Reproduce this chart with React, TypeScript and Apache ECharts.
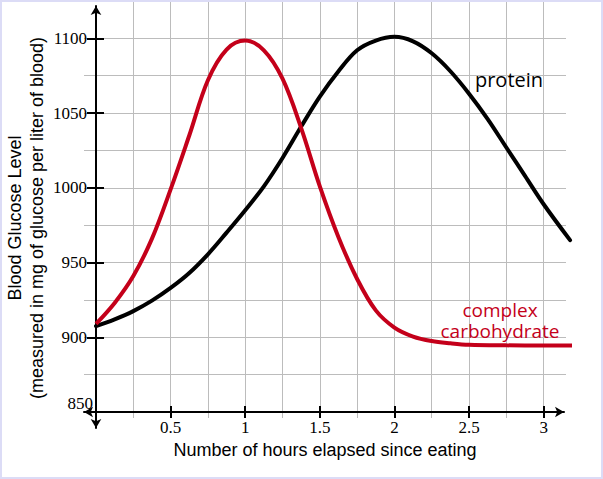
import React, { useEffect, useRef } from "react";
import * as echarts from "echarts";

// ---- data ----
const carbHours = [0, 0.125, 0.25, 0.375, 0.5, 0.625, 0.75, 0.875, 1, 1.125, 1.25, 1.375, 1.5, 1.625, 1.75, 1.875, 2, 2.125, 2.25, 2.375, 2.5, 2.75, 3, 3.19];
const carbohydrate = [909, 923, 941, 966, 999, 1035, 1072, 1092.5, 1098.5, 1092, 1073, 1040, 1001, 967, 939, 918, 906.5, 900.5, 897.5, 896, 895, 894.6, 894.5, 894.5];
const proteinHours = [0, 0.125, 0.25, 0.375, 0.5, 0.625, 0.75, 0.875, 1, 1.125, 1.25, 1.375, 1.5, 1.625, 1.75, 1.875, 2, 2.125, 2.25, 2.375, 2.5, 2.625, 2.75, 2.875, 3, 3.177];
const protein = [907.5, 912, 917.5, 924.5, 933, 943, 955.5, 970, 985, 1001, 1020, 1041, 1061, 1078, 1092, 1098.5, 1101, 1098, 1090, 1078, 1063, 1046, 1027, 1008, 989, 965];
const xTickLabels = [0.5, 1, 1.5, 2, 2.5, 3];
const yTickLabels = [850, 900, 950, 1000, 1050, 1100];
const yTickMarks = [900, 950, 1000, 1050, 1100];
const xTitle = "Number of hours elapsed since eating";
const yTitle = ["Blood Glucose Level", "(measured in mg of glucose per liter of blood)"];
const proteinLabel = "protein";
const carbLabel = ["complex", "carbohydrate"];

const RED = "#c4001a";
const GRID = "#bcbcbc";
const SERIF = "'Liberation Serif', 'Times New Roman', serif";
const SANS = "'Liberation Sans', Arial, sans-serif";
const LABEL_FONT = "'Open Sans', 'Noto Sans', sans-serif";

export default function App() {
  const ref = useRef<HTMLDivElement>(null);

  useEffect(() => {
    if (!ref.current) return;
    const chart = echarts.init(ref.current, null, { renderer: "svg" });
    const hidden = { show: false };
    chart.setOption({
      animation: false,
      backgroundColor: "#ffffff",
      grid: [
        // data grid + vertical grid lines + ticks/labels
        { left: 96, right: 31, top: 1, bottom: 61 },
        // horizontal grid lines
        { left: 84, right: 37, top: 1, bottom: 67 },
        // axis lines with arrows
        { left: 84, right: 39, top: 6, bottom: 51 },
      ],
      xAxis: [
        {
          type: "value", gridIndex: 0, position: "bottom", min: 0, max: 3.19, interval: 0.25,
          axisLine: { show: false, onZero: false }, axisTick: hidden, axisLabel: hidden,
          splitLine: { show: true, showMinLine: false, showMaxLine: false, lineStyle: { color: GRID, width: 1 } },
        },
        {
          type: "value", gridIndex: 0, position: "bottom", min: 0, max: 3.19, interval: 0.5,
          axisLine: { show: false, onZero: false },
          axisTick: { show: true, inside: true, length: 12, customValues: xTickLabels, lineStyle: { color: "#000", width: 2 } },
          axisLabel: {
            show: true, customValues: xTickLabels, margin: 1, color: "#000",
            fontFamily: SERIF, fontSize: 17, formatter: (v: number) => String(v),
          },
          splitLine: hidden,
        },
        {
          type: "value", gridIndex: 1, min: 0, max: 1, show: false,
        },
        {
          type: "value", gridIndex: 2, position: "bottom", min: -0.0804, max: 3.1367, offset: -16,
          axisLine: { show: true, onZero: false, symbol: ["arrow", "arrow"], symbolSize: [8, 9], lineStyle: { color: "#000", width: 2 } },
          axisTick: hidden, axisLabel: hidden, splitLine: hidden,
        },
      ],
      yAxis: [
        {
          type: "value", gridIndex: 0, position: "left", min: 846, max: 1125, offset: -8,
          axisLine: { show: false, onZero: false },
          axisTick: { show: true, length: 17, customValues: yTickMarks, lineStyle: { color: "#000", width: 2 } },
          axisLabel: {
            show: true, customValues: yTickLabels, margin: 17, color: "#000",
            fontFamily: SERIF, fontSize: 17,
            formatter: (v: number) => (v === yTickLabels[0] ? "{low|" + v + "}" : String(v)),
            rich: { low: { fontFamily: SERIF, fontSize: 17, color: "#000", padding: [0, -6, 18, 0] } },
          },
          splitLine: hidden,
        },
        {
          type: "value", gridIndex: 1, min: 850, max: 1125, interval: 25,
          axisLine: { show: false, onZero: false }, axisTick: hidden, axisLabel: hidden,
          splitLine: { show: true, showMinLine: false, showMaxLine: false, lineStyle: { color: GRID, width: 1 } },
        },
        {
          type: "value", gridIndex: 2, position: "left", min: 839.3, max: 1121.6,
          axisLine: { show: true, onZero: true, symbol: ["arrow", "arrow"], symbolSize: [8, 9], lineStyle: { color: "#000", width: 2 } },
          axisTick: hidden, axisLabel: hidden, splitLine: hidden,
        },
      ],
      series: [
        {
          type: "line", name: "protein", xAxisIndex: 0, yAxisIndex: 0,
          data: proteinHours.map((h, i) => [h, protein[i]]),
          smooth: 0.35, symbol: "none", showSymbol: false, clip: false, z: 5,
          lineStyle: { color: "#000", width: 4, cap: "round" },
        },
        {
          type: "line", name: "complex carbohydrate", xAxisIndex: 0, yAxisIndex: 0,
          data: carbHours.map((h, i) => [h, carbohydrate[i]]),
          smooth: 0.35, symbol: "none", showSymbol: false, clip: false, z: 6,
          lineStyle: { color: RED, width: 4 },
        },
      ],
      graphic: [
        {
          type: "text", x: 26, y: 218, rotation: Math.PI / 2,
          style: {
            text: yTitle.join("\n"), fontFamily: SANS, fontSize: 18, lineHeight: 22,
            fill: "#000", align: "center", verticalAlign: "middle",
          },
        },
        {
          type: "text", x: 325, y: 450,
          style: { text: xTitle, fontFamily: SANS, fontSize: 18, fill: "#000", align: "center", verticalAlign: "middle" },
        },
        {
          type: "text", x: 509, y: 79, z: 10,
          style: { text: proteinLabel, fontFamily: LABEL_FONT, fontSize: 20, fill: "#000", align: "center", verticalAlign: "middle" },
        },
        {
          type: "text", x: 500, y: 320, z: 10,
          style: {
            text: carbLabel.join("\n"), fontFamily: LABEL_FONT, fontSize: 19, lineHeight: 21,
            fill: RED, align: "center", verticalAlign: "middle",
          },
        },
      ],
    });
    return () => chart.dispose();
  }, []);

  return (
    <div style={{ position: "fixed", left: 0, top: 0, width: 603, height: 479, background: "#fff" }}>
      <div ref={ref} style={{ position: "absolute", left: 0, top: 0, width: 603, height: 479 }} />
      <div
        style={{
          position: "absolute", left: 0, top: 0, width: 603, height: 479, boxSizing: "border-box",
          border: "2px solid #dcdcf6", pointerEvents: "none",
        }}
      />
    </div>
  );
}
